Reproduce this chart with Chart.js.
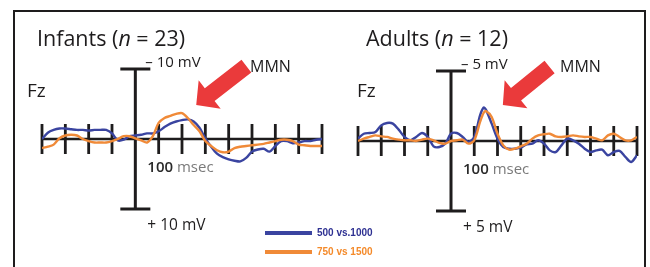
<!DOCTYPE html>
<html>
<head>
<meta charset="utf-8">
<script src="https://cdn.jsdelivr.net/npm/chart.js@4.4.1/dist/chart.umd.min.js"></script>
<style>
  html, body { margin: 0; padding: 0; background: #fff; }
  #wrap { position: relative; width: 650px; height: 267px; overflow: hidden; background: #fff; }
  #wrap canvas { position: absolute; left: 0; top: 0; }
</style>
</head>
<body>
<div id="wrap">
  <canvas id="infantChart" width="650" height="267"></canvas>
  <canvas id="adultChart" width="650" height="267"></canvas>
</div>
<script>
// time axis ticks (ms), every 100 ms; the 0 tick is the vertical axis
const tickTimes = [-400, -300, -200, -100, 100, 200, 300, 400, 500, 600, 700, 800];

// Infants (n = 23), microvolts, negative plotted up
const infantTimes = [-400, -375, -350, -325, -300, -275, -250, -225, -200, -175, -150, -125, -100, -75, -50, -25,
  0, 25, 50, 75, 100, 125, 150, 175, 200, 225, 250, 275, 300, 325, 350, 375, 400, 425, 450, 475, 500,
  525, 550, 575, 600, 625, 650, 675, 700, 725, 750, 775, 800];
const infant500 = [0, -0.9, -1.3, -1.5, -1.5, -1.4, -1.3, -1.3, -1.2, -1.3, -1.3, -1.3, -0.8, 0.2, 0.1, -0.4,
  -0.5, -0.6, -0.8, -0.8, -1.1, -1.7, -2.2, -2.5, -2.7, -2.8, -2.5, -1.6, -0.1, 1.1, 2.1, 2.6, 2.9, 3.1, 3.2, 2.7, 1.8,
  1.5, 1.4, 1.8, 1.0, 0.3, 0.3, 0.6, 0.5, 0.3, 0.3, 0.1, 0];
const infant750 = [1.3, 1.1, 0.8, -0.1, -0.5, -0.6, -0.5, 0, 0.3, 0.5, 0.5, 0.5, 0.3, 0, -0.4, -0.4,
  -0.1, 0.2, 0.5, -0.4, -2.3, -3.0, -3.3, -3.6, -3.7, -3.0, -2.0, -1.1, 0.3, 1.0, 1.6, 1.9, 1.8, 1.3, 1.1, 1.0, 0.9,
  0.8, 0.7, 0.5, 0.3, 0.1, 0.1, 0.3, 0.8, 0.9, 1.0, 1.0, 1.0];

// Adults (n = 12)
const adultTimes = [-400, -375, -350, -325, -300, -275, -250, -225, -200, -175, -150, -125, -100, -75, -50, -25,
  0, 25, 50, 75, 100, 125, 140, 150, 175, 200, 225, 250, 275, 300, 325, 350, 375, 400, 425, 450, 475, 500,
  525, 550, 575, 600, 625, 650, 675, 700, 725, 750, 775, 800];
const adult500 = [-0.17, -0.52, -0.57, -0.64, -1.12, -1.29, -1.24, -0.81, -0.29, -0.05, -0.29, -0.57, -0.29, 0.38, 0.43, 0.19,
  -0.52, -0.57, -0.29, 0.07, -0.29, -1.83, -2.38, -2.24, -1.24, -0.17, 0.43, 0.55, 0.55, 0.48, 0.24, 0.19, -0.05, 0.19, 0.67, 0.79, 0.31, -0.17,
  -0.05, 0.19, 0.55, 0.79, 0.67, 0.62, 1.02, 0.79, 0.71, 1.14, 1.5, 1.02];
const adult750 = [0, -0.17, -0.29, -0.4, -0.33, -0.29, -0.17, -0.1, -0.05, -0.05, 0, -0.1, -0.17, -0.05, 0.14, 0.19,
  0, -0.05, -0.1, 0.19, -0.05, -1.36, -2.0, -2.14, -1.71, -0.52, 0.31, 0.62, 0.55, 0.38, 0.19, -0.17, -0.4, -0.48, -0.52, -0.33, -0.29, -0.33,
  -0.4, -0.33, -0.29, -0.29, -0.17, -0.05, -0.4, -0.52, -0.29, -0.05, -0.05, -0.29];

const seriesLabels = ['500 vs.1000', '750 vs 1500'];
const BLUE = '#3a44a0';
const ORANGE = '#f08a38';
const INK = '#1e1c1d';
const FONT = '"Open Sans", "Noto Sans", sans-serif';

function toPoints(times, values) {
  return times.map((t, i) => ({ x: t, y: values[i] }));
}

function drawRuns(ctx, runs, x, y) {
  ctx.textBaseline = 'alphabetic';
  ctx.textAlign = 'left';
  for (const r of runs) {
    ctx.font = r.font;
    ctx.fillStyle = r.color || INK;
    ctx.fillText(r.text, x, y);
    x += ctx.measureText(r.text).width;
  }
}

function drawArrow(ctx, tipX, tipY, tailX, tailY) {
  const dx = tailX - tipX, dy = tailY - tipY;
  const len = Math.hypot(dx, dy);
  const ux = dx / len, uy = dy / len;
  const px = -uy, py = ux;
  const headLen = 17, headW = 18, shaftW = 8;
  const bx = tipX + ux * headLen, by = tipY + uy * headLen;
  ctx.beginPath();
  ctx.moveTo(tipX, tipY);
  ctx.lineTo(bx + px * headW, by + py * headW);
  ctx.lineTo(bx + px * shaftW, by + py * shaftW);
  ctx.lineTo(tailX + px * shaftW, tailY + py * shaftW);
  ctx.lineTo(tailX - px * shaftW, tailY - py * shaftW);
  ctx.lineTo(bx - px * shaftW, by - py * shaftW);
  ctx.lineTo(bx - px * headW, by - py * headW);
  ctx.closePath();
  ctx.fillStyle = '#ea3a3b';
  ctx.fill();
}

// draws the cross-shaped ERP axes under the waveforms, labels + arrow on top
const erpAxes = {
  id: 'erpAxes',
  beforeDatasetsDraw(chart, args, opts) {
    const ctx = chart.ctx;
    const x = chart.scales.x, y = chart.scales.y;
    const y0 = y.getPixelForValue(0);
    const x0 = x.getPixelForValue(0);
    const yTop = y.getPixelForValue(-opts.range);
    const yBot = y.getPixelForValue(opts.range);
    ctx.save();
    ctx.strokeStyle = INK;
    ctx.lineCap = 'butt';
    // baseline
    ctx.lineWidth = 2.5;
    ctx.beginPath();
    ctx.moveTo(x.getPixelForValue(-400), y0);
    ctx.lineTo(x.getPixelForValue(800), y0);
    ctx.stroke();
    // time ticks
    ctx.lineWidth = 2.8;
    tickTimes.forEach(t => {
      const px = x.getPixelForValue(t);
      ctx.beginPath();
      ctx.moveTo(px, y0 - 15);
      ctx.lineTo(px, y0 + 15);
      ctx.stroke();
    });
    // voltage axis with caps
    ctx.lineWidth = 3;
    ctx.beginPath();
    ctx.moveTo(x0, yTop);
    ctx.lineTo(x0, yBot);
    ctx.moveTo(x0 - 15, yTop);
    ctx.lineTo(x0 + 15, yTop);
    ctx.moveTo(x0 - 15, yBot);
    ctx.lineTo(x0 + 15, yBot);
    ctx.stroke();
    ctx.restore();
  },
  afterDraw(chart, args, opts) {
    const ctx = chart.ctx;
    const x = chart.scales.x, y = chart.scales.y;
    const x0 = x.getPixelForValue(0);
    const yTop = y.getPixelForValue(-opts.range);
    const yBot = y.getPixelForValue(opts.range);
    const y0 = y.getPixelForValue(0);
    ctx.save();
    drawArrow(ctx,
      x.getPixelForValue(opts.arrow.tip[0]), y.getPixelForValue(opts.arrow.tip[1]),
      x.getPixelForValue(opts.arrow.tail[0]), y.getPixelForValue(opts.arrow.tail[1]));
    drawRuns(ctx, [
      { text: opts.group + ' (', font: '500 21.5px ' + FONT },
      { text: 'n', font: 'italic 500 21.5px ' + FONT },
      { text: ' = ' + opts.n + ')', font: '500 21.5px ' + FONT }
    ], opts.titleX, 46);
    drawRuns(ctx, [{ text: 'Fz', font: '500 19px ' + FONT }], opts.fzX, 97);
    drawRuns(ctx, [{ text: '\u2013 ' + opts.range + ' mV', font: '500 15px ' + FONT }], x0 + 10, yTop - 2);
    drawRuns(ctx, [{ text: '+ ' + opts.range + ' mV', font: '500 15.5px ' + FONT }], x0 + 12, yBot + 21);
    drawRuns(ctx, [
      { text: '100 ', font: '600 15px ' + FONT, color: '#2a2a2a' },
      { text: 'msec', font: '15px ' + FONT, color: '#7a7a7a' }
    ], x0 + 12, y0 + 33);
    drawRuns(ctx, [{ text: 'MMN', font: '500 16px ' + FONT }], opts.mmnX, 72);
    ctx.restore();
  }
};

// outer frame and series key (drawn once, on the infant canvas)
const frameAndKey = {
  id: 'frameAndKey',
  afterDraw(chart) {
    const ctx = chart.ctx;
    ctx.save();
    ctx.strokeStyle = INK;
    ctx.lineWidth = 2;
    ctx.beginPath();
    ctx.moveTo(14, 270);
    ctx.lineTo(14, 11);
    ctx.lineTo(645, 11);
    ctx.lineTo(645, 270);
    ctx.stroke();
    const keyColors = [BLUE, ORANGE];
    const keyText = ['#2e3192', '#f48a2a'];
    seriesLabels.forEach((lab, i) => {
      const ly = 233 + i * 19;
      ctx.strokeStyle = keyColors[i];
      ctx.lineWidth = 4;
      ctx.beginPath();
      ctx.moveTo(265, ly);
      ctx.lineTo(312, ly);
      ctx.stroke();
      ctx.font = 'bold 10px "Liberation Sans", sans-serif';
      ctx.fillStyle = keyText[i];
      ctx.textBaseline = 'middle';
      ctx.fillText(lab, 317, ly + 0.5);
    });
    ctx.restore();
  }
};

function makePanel(id, times, s500, s750, range, padding, labels, extraPlugins) {
  return new Chart(document.getElementById(id), {
    type: 'line',
    data: {
      datasets: [
        { label: seriesLabels[0], data: toPoints(times, s500), borderColor: BLUE, order: 2 },
        { label: seriesLabels[1], data: toPoints(times, s750), borderColor: ORANGE, order: 1 }
      ]
    },
    options: {
      responsive: false,
      animation: false,
      devicePixelRatio: 1,
      events: [],
      layout: { padding: padding },
      elements: {
        point: { radius: 0 },
        line: { borderWidth: 2.4, tension: 0.3, fill: false }
      },
      scales: {
        x: { type: 'linear', min: -400, max: 800, display: false },
        y: { type: 'linear', min: -range, max: range, reverse: true, display: false }
      },
      plugins: {
        legend: { display: false },
        tooltip: { enabled: false },
        erpAxes: Object.assign({ range: range }, labels)
      }
    },
    plugins: [erpAxes].concat(extraPlugins)
  });
}

const infantChart = makePanel('infantChart', infantTimes, infant500, infant750, 10,
  { left: 42, right: 328, top: 69, bottom: 58 },
  { group: 'Infants', n: 23, titleX: 37, fzX: 27, mmnX: 250, arrow: { tip: [261, -4.86], tail: [476, -10.4] } },
  [frameAndKey]);

const adultChart = makePanel('adultChart', adultTimes, adult500, adult750, 5,
  { left: 358, right: 13, top: 71, bottom: 56 },
  { group: 'Adults', n: 12, titleX: 366, fzX: 357, mmnX: 560, arrow: { tip: [223, -2.57], tail: [424, -5.29] } },
  []);
</script>
</body>
</html>
